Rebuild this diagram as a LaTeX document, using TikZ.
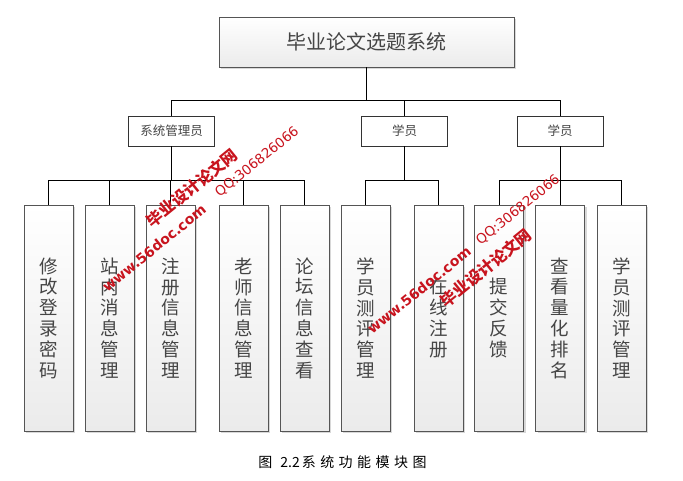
\documentclass[tikz,border=0pt]{standalone}
\usepackage{fontspec}
\newfontfamily\cjk{Noto Sans CJK SC}
\newfontfamily\cjkls[LetterSpace=32]{Noto Sans CJK SC}
\newfontfamily\wmsans{DejaVu Sans}
\usetikzlibrary{shadows}
\definecolor{boxline}{HTML}{555555}
\definecolor{txt}{HTML}{454545}
\definecolor{wmred}{HTML}{C8141E}
\definecolor{shade}{HTML}{EBEBEB}
\begin{document}
\begin{tikzpicture}[x=1pt,y=-1pt,
 gbox/.style={draw=boxline, line width=0.8pt, top color=white, bottom color=shade,
   drop shadow={shadow xshift=2pt, shadow yshift=-2pt, fill=black!30, opacity=0.5},
   inner sep=0pt, text=txt},
 leaf/.style={gbox, minimum width=49pt, minimum height=226pt, align=center,
   font=\cjk\fontsize{18.5}{20.8}\selectfont},
 role/.style={draw=black!80, line width=0.8pt, fill=white, minimum width=86pt,
   minimum height=30pt, inner sep=0pt, text=txt, font=\cjk\fontsize{12.5}{14}\selectfont},
 conn/.style={line width=0.8pt, black},
 wm/.style={text=wmred, rotate=39, inner sep=0pt}
]
\useasboundingbox (0,0) rectangle (683,481);

\node[gbox, minimum width=295pt, minimum height=50pt, font=\cjk\fontsize{20}{24}\selectfont] (title) at (366.5,42) {毕业论文选题系统};

\node[role] (admin) at (171.5,131) {系统管理员};
\node[role] (stuA) at (404.5,131) {学员};
\node[role] (stuB) at (560,131) {学员};

\node[leaf] (l1) at (48.5,318) {修\\改\\登\\录\\密\\码};
\node[leaf] (l2) at (109.5,318) {站\\内\\消\\息\\管\\理};
\node[leaf] (l3) at (170.5,318) {注\\册\\信\\息\\管\\理};
\node[leaf] (l4) at (243.5,318) {老\\师\\信\\息\\管\\理};
\node[leaf] (l5) at (304.5,318) {论\\坛\\信\\息\\查\\看};
\node[leaf] (l6) at (365.5,318) {学\\员\\测\\评\\管\\理};
\node[leaf] (l7) at (438.5,318) {在\\线\\注\\册};
\node[leaf] (l8) at (499,318) {提\\交\\反\\馈};
\node[leaf] (l9) at (560,318) {查\\看\\量\\化\\排\\名};
\node[leaf] (l10) at (621.5,318) {学\\员\\测\\评\\管\\理};

\coordinate (j0) at (366.5,100);
\coordinate (jA) at (171.5,180);
\coordinate (jB) at (404.5,180);
\coordinate (jC) at (560,180);

\draw[conn] (title.south) -- (j0);
\draw[conn] (admin.north) |- (j0);
\draw[conn] (stuB.north) |- (j0);
\draw[conn] (stuA.north) -- (stuA.north |- j0);

\draw[conn] (admin.south) -- (jA);
\foreach \n in {l1,l2,l3,l4,l5} \draw[conn] (\n.north) |- (jA);
\draw[conn] (stuA.south) -- (jB);
\foreach \n in {l6,l7} \draw[conn] (\n.north) |- (jB);
\draw[conn] (stuB.south) -- (jC);
\foreach \n in {l8,l9,l10} \draw[conn] (\n.north) |- (jC);

\node[font=\fontsize{14}{16}\selectfont, inner sep=0pt] (cap) at (342.5,462) {{\cjkls 图}\hspace{8pt}{\cjk 2.2}\hspace{2pt}{\cjkls 系统功能模块图}};

\node[wm, font=\cjk\bfseries\fontsize{16}{16}\selectfont] (wm1) at (192,188) {毕业设计论文网};
\node[wm, font=\wmsans\bfseries\fontsize{14}{14}\selectfont] (wm2) at (154,248) {www.56doc.com};
\node[wm, font=\wmsans\fontsize{13.5}{14}\selectfont] (wm3) at (257,162) {QQ:306826066};
\node[wm, font=\cjk\bfseries\fontsize{16}{16}\selectfont] (wm4) at (486,268) {毕业设计论文网};
\node[wm, font=\wmsans\bfseries\fontsize{14}{14}\selectfont] (wm5) at (419,290) {www.56doc.com};
\node[wm, font=\wmsans\fontsize{13.5}{14}\selectfont] (wm6) at (518,210) {QQ:306826066};
\end{tikzpicture}
\end{document}
